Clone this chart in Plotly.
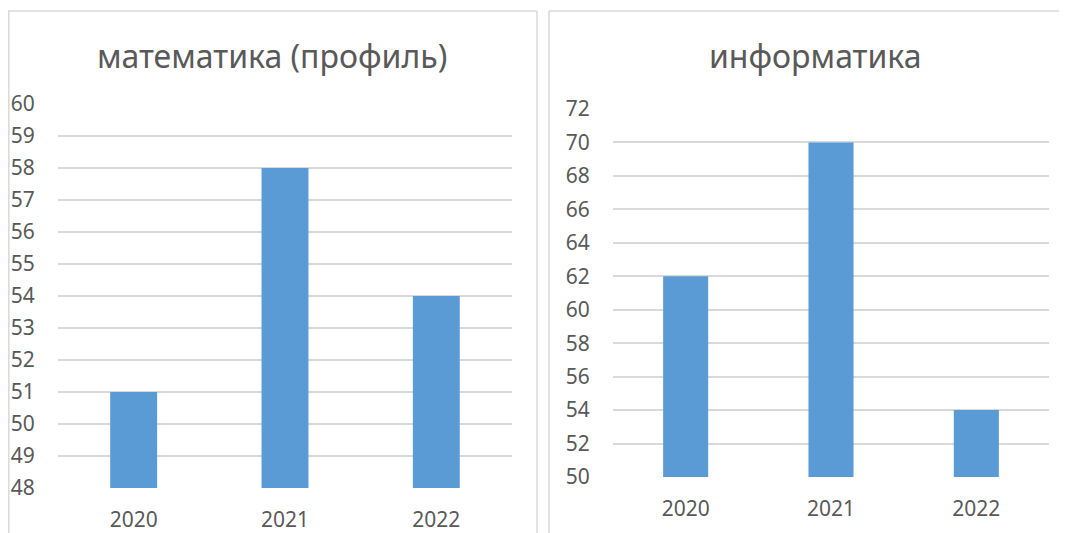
import plotly.graph_objects as go

years = ["2020", "2021", "2022"]
math_scores = [51, 58, 54]
inf_scores = [62, 70, 54]
math_title = "математика (профиль)"
inf_title = "информатика"

# page body has an 8px margin; figure placed so positions match the window pixels
OFF = 8
W, H = 1067 - 2 * OFF, 533 - OFF
BAR = "#5B9BD5"
GRID = "#D9D9D9"
TXT = "#595959"
FONT = "Noto Sans"

def px(x):
    return (x - OFF) / W

def py(y):
    return 1 - (y - OFF) / H

fig = go.Figure()
fig.add_trace(go.Bar(x=years, y=math_scores, marker_color=BAR, xaxis="x", yaxis="y",
                     showlegend=False, hoverinfo="x+y"))
fig.add_trace(go.Bar(x=years, y=inf_scores, marker_color=BAR, xaxis="x2", yaxis="y2",
                     showlegend=False, hoverinfo="x+y"))

axis_common_x = dict(type="category", showgrid=False, zeroline=False, showline=False, ticks="outside",
                     ticklen=13, tickcolor="rgba(0,0,0,0)", automargin=False,
                     tickfont=dict(family=FONT, size=21, color=TXT), fixedrange=True)
axis_common_y = dict(showgrid=True, gridcolor=GRID, gridwidth=2, zeroline=False, showline=False,
                     ticks="outside", ticklen=18, tickcolor="rgba(0,0,0,0)", automargin=False,
                     tickfont=dict(family=FONT, size=21, color=TXT), fixedrange=True)

fig.update_layout(
    template="none",
    width=W, height=H,
    margin=dict(l=0, r=0, t=0, b=0, pad=0),
    paper_bgcolor="white", plot_bgcolor="white",
    bargap=0.69,
    xaxis=dict(domain=[px(58), px(512)], anchor="y", **axis_common_x),
    yaxis=dict(domain=[py(488), py(104)], anchor="x", range=[48, 60], dtick=1, **axis_common_y),
    xaxis2=dict(domain=[px(613), px(1049)], anchor="y2", **axis_common_x),
    yaxis2=dict(domain=[py(477), py(109)], anchor="x2", range=[50, 72], dtick=2, **axis_common_y),
    shapes=[
        dict(type="line", xref="paper", yref="paper", x0=px(8.8), x1=px(8.8), y0=py(545), y1=py(11),
             line=dict(color=GRID, width=1.5), layer="below"),
        dict(type="line", xref="paper", yref="paper", x0=px(8), x1=px(537), y0=py(11), y1=py(11),
             line=dict(color=GRID, width=1.5), layer="below"),
        dict(type="line", xref="paper", yref="paper", x0=px(537), x1=px(537), y0=py(545), y1=py(11),
             line=dict(color=GRID, width=1.5), layer="below"),
        dict(type="line", xref="paper", yref="paper", x0=px(549), x1=px(549), y0=py(545), y1=py(11),
             line=dict(color=GRID, width=1.5), layer="below"),
        dict(type="line", xref="paper", yref="paper", x0=px(549), x1=px(1075), y0=py(11), y1=py(11),
             line=dict(color=GRID, width=1.5), layer="below"),
    ],
    annotations=[
        dict(text=math_title, xref="paper", yref="paper", x=px(272), y=py(56), showarrow=False,
             xanchor="center", yanchor="middle", font=dict(family=FONT, size=32, color=TXT)),
        dict(text=inf_title, xref="paper", yref="paper", x=px(815), y=py(56), showarrow=False,
             xanchor="center", yanchor="middle", font=dict(family=FONT, size=32, color=TXT)),
    ],
)

fig.write_html("out.html")
